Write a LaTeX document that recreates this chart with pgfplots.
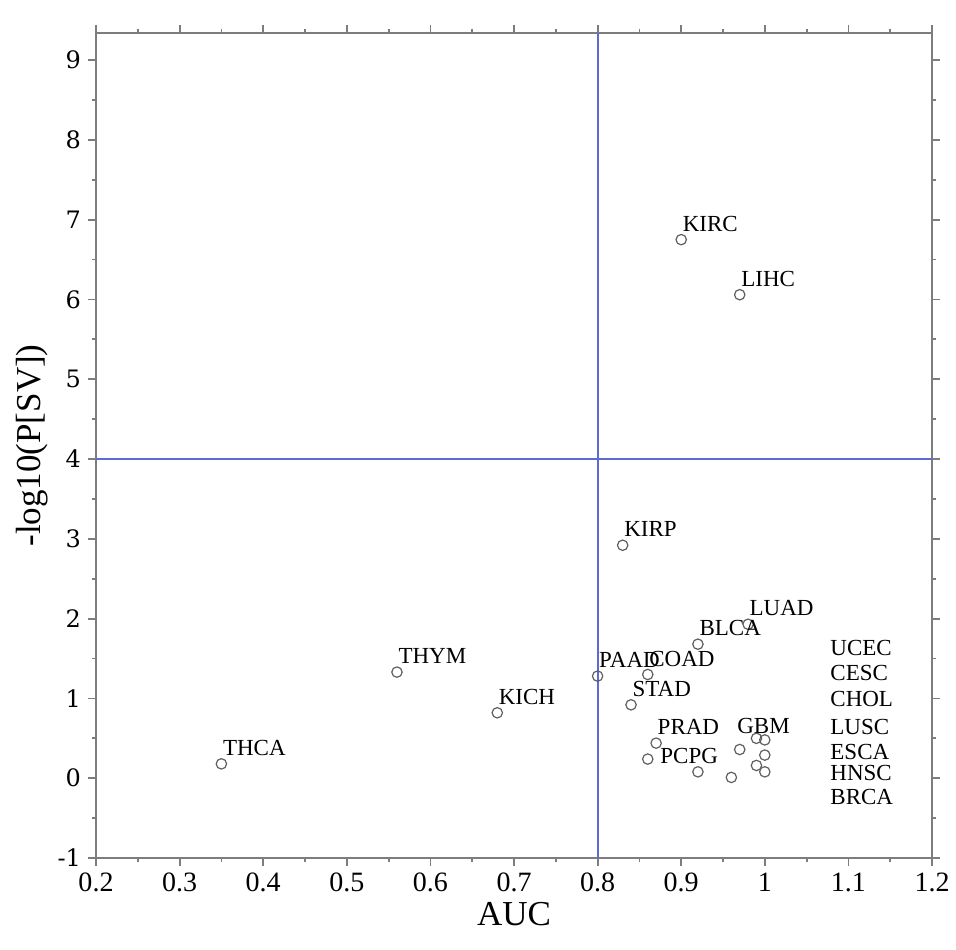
\documentclass[border=0pt]{standalone}
\usepackage{pgfplots}
\pgfplotsset{compat=1.18}
\usepackage{fontspec}
\setmainfont{Liberation Serif}
\newfontfamily\tickfont{DejaVu Serif}
\definecolor{refline}{RGB}{95,105,210}
\definecolor{framegray}{RGB}{125,125,125}
\definecolor{markgray}{RGB}{95,95,95}
\begin{document}
\begin{tikzpicture}
\begin{axis}[
    scale only axis,
    width=418pt, height=412.5pt,
    xmin=0.2, xmax=1.2, ymin=-1, ymax=9.34,
    xtick={0.2,0.3,...,1.2},
    ytick={-1,0,...,9},
    minor x tick num=1, minor y tick num=1,
    tick align=outside,
    major tick length=4pt, minor tick length=2pt,
    axis line style={framegray, line width=1pt},
    every tick/.style={framegray, line width=0.9pt},
    /pgf/number format/assume math mode=true,
    x tick label style={font=\fontsize{14}{14}\selectfont},
    y tick label style={font=\tickfont\fontsize{12}{12}\selectfont},
    xlabel={AUC}, ylabel={-log10(P[SV])},
    label style={font=\fontsize{17.5}{17.5}\selectfont},
    xlabel style={yshift=2pt},
    ylabel style={yshift=-2pt},
    clip=false,
]
% threshold lines
\addplot[draw=refline, line width=1pt] coordinates {(0.8,-1) (0.8,9.34)};
\addplot[draw=refline, line width=0.8pt] coordinates {(0.2,4) (1.2,4)};
% cancers, labelled to the upper right
\addplot[only marks, mark=o, mark size=2.6pt, markgray, mark options={line width=0.6pt},
    point meta=explicit symbolic, nodes near coords,
    every node near coord/.style={anchor=base west, xshift=0.5pt, yshift=4.2pt,
        text=black, inner sep=0pt, font=\fontsize{11.5}{11.5}\selectfont}]
coordinates {
  (0.90,6.75) [KIRC]
  (0.97,6.06) [LIHC]
  (0.83,2.92) [KIRP]
  (0.98,1.93) [LUAD]
  (0.92,1.68) [BLCA]
  (0.80,1.28) [PAAD]
  (0.86,1.30) [COAD]
  (0.84,0.92) [STAD]
  (0.87,0.44) [PRAD]
  (0.56,1.33) [THYM]
  (0.68,0.82) [KICH]
  (0.35,0.18) [THCA]
  (0.92,0.08) []
  (0.96,0.01) []
  (0.99,0.50) []
  (1.00,0.48) []
  (1.00,0.29) []
  (0.99,0.16) []
  (1.00,0.08) []
};
% labels placed differently
\addplot[only marks, mark=o, mark size=2.6pt, markgray, mark options={line width=0.6pt},
    point meta=explicit symbolic, nodes near coords,
    every node near coord/.style={anchor=base west, xshift=6pt, yshift=-2pt,
        text=black, inner sep=0pt, font=\fontsize{11.5}{11.5}\selectfont}]
coordinates {(0.86,0.24) [PCPG]};
\addplot[only marks, mark=o, mark size=2.6pt, markgray, mark options={line width=0.6pt},
    point meta=explicit symbolic, nodes near coords,
    every node near coord/.style={anchor=base west, xshift=-1.5pt, yshift=8pt,
        text=black, inner sep=0pt, font=\fontsize{11.5}{11.5}\selectfont}]
coordinates {(0.97,0.36) [GBM]};
% column of cancers without a point on the chart
\addplot[only marks, mark=none, point meta=explicit symbolic, nodes near coords,
    every node near coord/.style={anchor=base west, inner sep=0pt, text=black,
        font=\fontsize{11.5}{11.5}\selectfont}]
coordinates {
  (1.078,1.54) [UCEC]
  (1.078,1.22) [CESC]
  (1.078,0.90) [CHOL]
  (1.078,0.55) [LUSC]
  (1.078,0.24) [ESCA]
  (1.078,-0.03) [HNSC]
  (1.078,-0.33) [BRCA]
};
\end{axis}
\pgfresetboundingbox
\path ([xshift=-48pt, yshift=-45.5pt]current axis.south west)
      rectangle ([xshift=12pt, yshift=16.5pt]current axis.north east);
\end{tikzpicture}
\end{document}
